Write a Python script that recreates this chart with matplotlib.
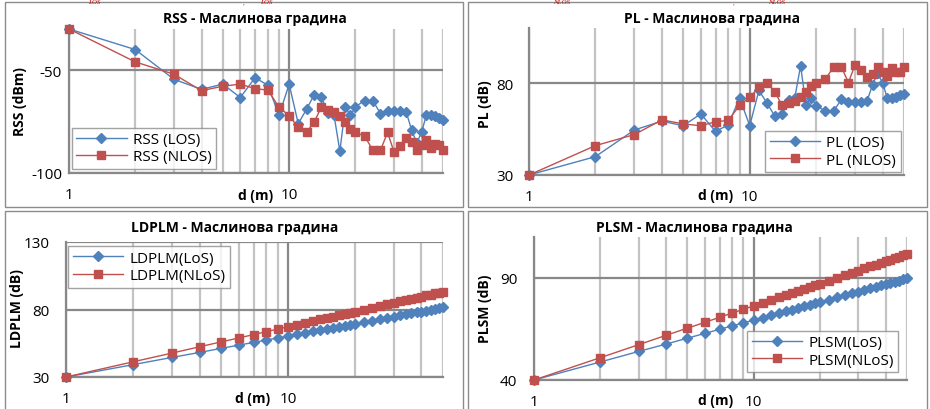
import matplotlib
matplotlib.use('Agg')
import matplotlib.pyplot as plt
from matplotlib.patches import Rectangle
from matplotlib.ticker import NullFormatter

plt.rcParams['font.family'] = ['Open Sans', 'DejaVu Sans']

# ---------------- data ----------------
d = [1, 2, 3, 4, 5, 6, 7, 8, 9, 10, 11, 12, 13, 14, 15, 16, 17, 18, 19, 20,
     22, 24, 26, 28, 30, 32, 34, 36, 38, 40, 42, 44, 46, 48, 50]

rss_los = [-30, -40, -54.5, -59.3, -56.8, -63.3, -53.7, -57.3, -72, -56.8,
           -76, -69, -61.9, -63, -71, -72, -89.4, -68, -72, -67.8,
           -64.8, -64.8, -71.1, -70, -70, -70, -70.3, -79, -85.5, -80,
           -72, -72, -72.2, -73.3, -74]
rss_nlos = [-30, -46, -52, -60, -57.8, -56.8, -59, -59.7, -68, -72.2,
            -77.8, -80.2, -75.2, -68, -69.2, -70.2, -72.2, -75.2, -78.4, -80.3,
            -82, -88.9, -88.9, -80.3, -90, -87, -83.2, -85, -88.9, -86.2,
            -84, -88, -86.1, -86.2, -88.9]

pl_los = [30, 40, 54.5, 59.3, 56.8, 63.3, 53.7, 57.3, 72, 56.8,
          76, 69, 61.9, 63, 71, 72, 89.4, 68, 72, 67.8,
          64.8, 64.8, 71.1, 70, 70, 70, 70.3, 79, 85.5, 80,
          72, 72, 72.2, 73.3, 74]
pl_nlos = [30, 46, 52, 60, 57.8, 56.8, 59, 59.7, 68, 72.2,
           77.8, 80.2, 75.2, 68, 69.2, 70.2, 72.2, 75.2, 78.4, 80.3,
           82, 88.9, 88.9, 80.3, 90, 87, 83.2, 85, 88.9, 86.2,
           84, 88, 86.1, 86.2, 88.9]

ldplm_los = [30, 39.1, 44.5, 48.2, 51.2, 53.6, 55.6, 57.4, 58.9, 60.3,
             61.5, 62.7, 63.8, 64.7, 65.6, 66.5, 67.3, 68.0, 68.8, 69.4,
             70.7, 71.8, 72.9, 73.8, 74.8, 75.6, 76.4, 77.1, 77.9, 78.5,
             79.2, 79.8, 80.4, 80.9, 81.5]
ldplm_nlos = [30, 41.2, 47.7, 52.4, 56.0, 58.9, 61.4, 63.6, 65.5, 67.2,
              68.7, 70.1, 71.4, 72.6, 73.7, 74.8, 75.8, 76.7, 77.6, 78.4,
              79.9, 81.3, 82.6, 83.8, 84.9, 86.0, 87.0, 87.9, 88.8, 89.6,
              90.4, 91.1, 91.9, 92.5, 93.2]

plsm_los = [40, 48.8, 54.0, 57.6, 60.5, 62.8, 64.8, 66.5, 68.0, 69.3,
            70.5, 71.6, 72.6, 73.6, 74.5, 75.3, 76.0, 76.8, 77.5, 78.1,
            79.3, 80.4, 81.5, 82.4, 83.3, 84.1, 84.9, 85.6, 86.3, 86.9,
            87.6, 88.1, 88.7, 89.3, 89.8]
plsm_nlos = [40, 50.9, 57.3, 61.9, 65.4, 68.2, 70.7, 72.8, 74.6, 76.3,
             77.8, 79.2, 80.4, 81.6, 82.7, 83.7, 84.7, 85.6, 86.4, 87.2,
             88.7, 90.1, 91.4, 92.5, 93.6, 94.6, 95.6, 96.5, 97.4, 98.2,
             98.9, 99.6, 100.4, 101.0, 101.7]

x_major = [1, 10]
x_minor = [2, 3, 4, 5, 6, 7, 8, 9, 20, 30, 40, 50]

BLUE = '#4F81BD'
RED = '#C0504D'
DARK = '#888888'
LIGHT = '#c3c3c3'

W, H = 930, 410
fig = plt.figure(figsize=(W / 100, H / 100), dpi=100)


def add_ax(x0, y0, x1, y1):
    return fig.add_axes([x0 / W, 1 - y1 / H, (x1 - x0) / W, (y1 - y0) / H])


def ftext(x, y, s, **kw):
    fig.text(x / W, 1 - y / H, s, **kw)


def frame(x0, y0, x1, y1):
    fig.patches.append(Rectangle((x0 / W, 1 - y1 / H), (x1 - x0) / W, (y1 - y0) / H,
                                 transform=fig.transFigure, fill=False,
                                 ec='#8c8c8c', lw=1.0, zorder=0))


frame(5, 3, 463, 208)
frame(468, 3, 927, 208)
frame(5, 212, 463, 420)
frame(468, 212, 927, 420)

# small remnants of document text above the charts
for xx, s in [(88, 'LOS'), (243, ','), (260, 'LOS'), (553, 'NLOS'), (733, ','), (768, 'NLOS')]:
    ftext(xx, 0.5, s, ha='left', va='top', fontsize=5, style='italic',
          color='#C00000', family='Liberation Serif')


def style(ax, ylim, yticks, ypad):
    ax.set_xscale('log')
    ax.set_xlim(1, 50)
    ax.set_ylim(*ylim)
    ax.set_xticks(x_major)
    ax.set_xticklabels([str(v) for v in x_major])
    ax.set_xticks(x_minor, minor=True)
    ax.xaxis.set_minor_formatter(NullFormatter())
    ax.set_yticks(yticks)
    ax.set_yticklabels([str(v) for v in yticks])
    ax.tick_params(axis='both', which='both', length=0, labelsize=11, colors='black')
    ax.tick_params(axis='x', pad=10)
    ax.tick_params(axis='y', pad=ypad)
    ax.grid(True, which='minor', axis='x', color=LIGHT, lw=1.6)
    ax.grid(True, which='major', axis='x', color=DARK, lw=1.6)
    ax.grid(True, which='major', axis='y', color=DARK, lw=1.6)
    ax.set_axisbelow(True)
    for s in ['top', 'right']:
        ax.spines[s].set_visible(False)
    for s in ['left', 'bottom']:
        ax.spines[s].set_color(DARK)
        ax.spines[s].set_linewidth(1.6)
    ax.patch.set_alpha(0)


def plot_pair(ax, y1, y2, l1, l2):
    ax.plot(d, y1, color=BLUE, lw=1.0, marker='D', ms=5, mfc=BLUE, mec=BLUE,
            label=l1, clip_on=False, zorder=3)
    ax.plot(d, y2, color=RED, lw=1.0, marker='s', ms=6.3, mfc=RED, mec=RED,
            label=l2, clip_on=False, zorder=4)


def legend(ax, loc, anchor):
    lg = ax.legend(loc=loc, bbox_to_anchor=anchor, fontsize=11, frameon=True,
                   fancybox=False, edgecolor='#8c8c8c', handlelength=3.3,
                   handletextpad=0.4, labelspacing=0.15, borderpad=0.3,
                   borderaxespad=0)
    lg.get_frame().set_linewidth(1.0)
    lg.set_zorder(10)


TS = 10
LS = 10

# ---- RSS ----
ax1 = add_ax(69, 30, 443, 174)
style(ax1, (-100, -30), [-100, -50], 5)
plot_pair(ax1, rss_los, rss_nlos, 'RSS (LOS)', 'RSS (NLOS)')
legend(ax1, 'lower left', (0.007, 0.028))
ftext(255, 19, 'RSS - Маслинова градина', ha='center', va='center', fontsize=TS, fontweight='bold')
ftext(20, 102, 'RSS (dBm)', ha='center', va='center', rotation=90, fontsize=LS, fontweight='bold')
ftext(256, 196, 'd (m)', ha='center', va='center', fontsize=LS, fontweight='bold')

# ---- PL ----
ax2 = add_ax(529, 29, 904, 176)
style(ax2, (30, 110), [30, 80], 11)
plot_pair(ax2, pl_los, pl_nlos, 'PL (LOS)', 'PL (NLOS)')
legend(ax2, 'lower right', (0.991, 0.018))
ftext(712, 19, 'PL - Маслинова градина', ha='center', va='center', fontsize=TS, fontweight='bold')
ftext(485, 104, 'PL (dB)', ha='center', va='center', rotation=90, fontsize=LS, fontweight='bold')
ftext(716, 196, 'd (m)', ha='center', va='center', fontsize=LS, fontweight='bold')

# ---- LDPLM ----
ax3 = add_ax(66, 243, 443, 378)
style(ax3, (30, 130), [30, 80, 130], 12)
plot_pair(ax3, ldplm_los, ldplm_nlos, 'LDPLM(LoS)', 'LDPLM(NLoS)')
legend(ax3, 'upper left', (0.006, 0.97))
ftext(235, 228, 'LDPLM - Маслинова градина', ha='center', va='center', fontsize=TS, fontweight='bold')
ftext(17, 309, 'LDPLM (dB)', ha='center', va='center', rotation=90, fontsize=LS, fontweight='bold')
ftext(253, 399, 'd (m)', ha='center', va='center', fontsize=LS, fontweight='bold')

# ---- PLSM ----
ax4 = add_ax(534, 238, 907, 381)
style(ax4, (40, 110), [40, 90], 12)
plot_pair(ax4, plsm_los, plsm_nlos, 'PLSM(LoS)', 'PLSM(NLoS)')
legend(ax4, 'lower right', (0.977, 0.054))
ftext(694, 228, 'PLSM - Маслинова градина', ha='center', va='center', fontsize=TS, fontweight='bold')
ftext(485, 309, 'PLSM (dB)', ha='center', va='center', rotation=90, fontsize=LS, fontweight='bold')
ftext(716, 401, 'd (m)', ha='center', va='center', fontsize=LS, fontweight='bold')

fig.savefig('out.png', dpi=100)
